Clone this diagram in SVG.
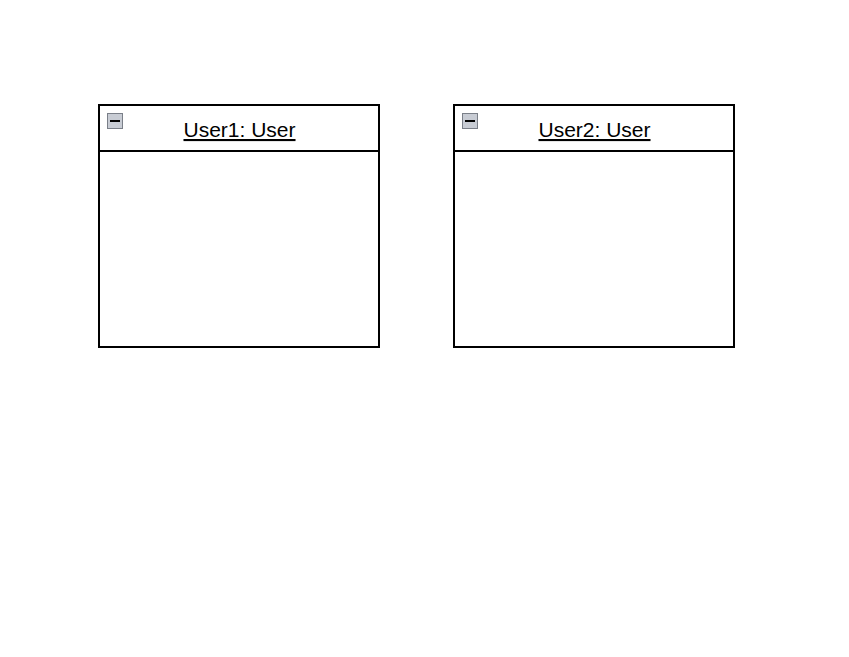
<svg xmlns="http://www.w3.org/2000/svg" width="849" height="657" viewBox="0 0 849 657">
<style>
.box{fill:#fff;stroke:#000;stroke-width:2}
.sep{stroke:#000;stroke-width:2}
.t{font-family:"Liberation Sans",Arial,sans-serif;font-size:21px;fill:#000;text-anchor:middle;text-decoration:underline}
.ic{fill:#c8ccd4;stroke:#7a7f88;stroke-width:1}
.icm{stroke:#000;stroke-width:2}
</style>
<rect width="849" height="657" fill="#fff"/>
<g id="user1">
<rect class="box" x="99" y="105" width="280" height="242"/>
<line class="sep" x1="99" y1="151" x2="379" y2="151"/>
<rect class="ic" x="107.5" y="113.5" width="15" height="15"/>
<line class="icm" x1="110" y1="121" x2="120" y2="121"/>
<text class="t" x="239.5" y="137">User1: User</text>
</g>
<g id="user2">
<rect class="box" x="454" y="105" width="280" height="242"/>
<line class="sep" x1="454" y1="151" x2="734" y2="151"/>
<rect class="ic" x="462.5" y="113.5" width="15" height="15"/>
<line class="icm" x1="465" y1="121" x2="475" y2="121"/>
<text class="t" x="594.5" y="137">User2: User</text>
</g>
<g id="connectors"/>
</svg>
